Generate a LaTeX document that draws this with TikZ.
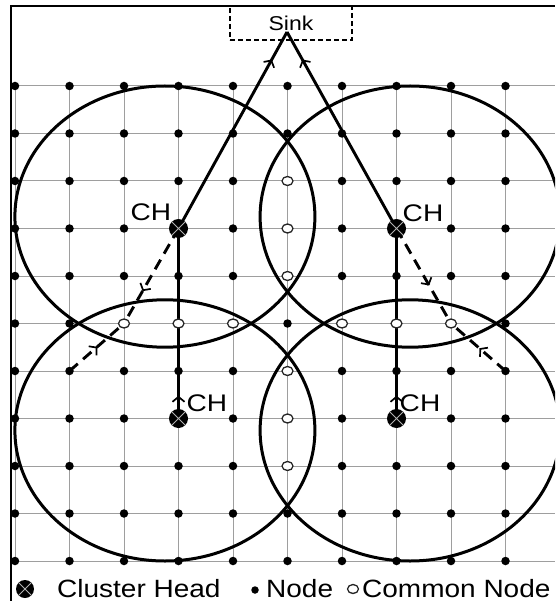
\documentclass[tikz,border=0pt]{standalone}
\usepackage{fontspec}
\usepackage{graphicx}
\setmainfont{Liberation Sans}
\usetikzlibrary{arrows.meta,decorations.markings,shapes.geometric}
\pgfdeclarelayer{background}
\pgfsetlayers{background,main}
\begin{document}
\begin{tikzpicture}[x=1pt,y=-1pt,
  gridline/.style={draw=black!38, line width=1pt},
  rangecircle/.style={draw=black, line width=3pt},
  dot/.style={circle, fill=black, inner sep=0pt, minimum size=8.5pt},
  common/.style={ellipse, draw=black!85, line width=1.3pt, fill=white, inner sep=0pt, minimum width=11pt, minimum height=9pt},
  head/.style={circle, fill=black, inner sep=0pt, minimum size=19pt,
    path picture={\draw[black!30, line width=0.9pt]
      (path picture bounding box.north west) -- (path picture bounding box.south east)
      (path picture bounding box.north east) -- (path picture bounding box.south west);}},
  link/.style={draw=black, line width=2.9pt},
  dlink/.style={draw=black, line width=2.9pt, dash pattern=on 11pt off 7pt},
  midarrow/.style={postaction={decorate, decoration={markings,
    mark=at position #1 with {\arrow[black, line width=1.7pt]{Straight Barb[length=5pt,width=12pt]}}}}},
  chlbl/.style={inner sep=0pt, font=\fontsize{24}{24}\selectfont},
  leglbl/.style={inner sep=0pt, anchor=base west, font=\fontsize{25}{25}\selectfont},
]
\useasboundingbox (0,0) rectangle (555,601);

% special grid positions (no plain node there)
\foreach \k in {5-2,5-3,5-4,2-5,3-5,4-5,6-5,7-5,8-5,5-6,5-7,5-8,3-3,7-3,3-7,7-7}{
  \expandafter\gdef\csname skip-\k\endcsname{}}

% plain nodes
\foreach \c in {0,...,9}{
  \foreach \r in {0,...,10}{
    \ifcsname skip-\c-\r\endcsname\else
      \node[dot] (g-\c-\r) at ({15+54.5*\c},{86+47.5*\r}) {};
    \fi
  }
}
% common nodes
\foreach \c/\r in {5/2,5/3,5/4,2/5,3/5,4/5,6/5,7/5,8/5,5/6,5/7,5/8}{
  \node[common] (cm-\c-\r) at ({15+54.5*\c},{86+47.5*\r}) {};
}
% cluster heads
\node[head] (ch1) at ({15+54.5*3},{86+47.5*3}) {};
\node[head] (ch2) at ({15+54.5*7},{86+47.5*3}) {};
\node[head] (ch3) at ({15+54.5*3},{86+47.5*7}) {};
\node[head] (ch4) at ({15+54.5*7},{86+47.5*7}) {};

% labels
\node[chlbl] (l1) at (151,212) {\scalebox{1.17}[1]{CH}};
\node[chlbl] (l2) at (423,213) {\scalebox{1.17}[1]{CH}};
\node[chlbl] (l3) at (207,403) {\scalebox{1.17}[1]{CH}};
\node[chlbl] (l4) at (420,403) {\scalebox{1.17}[1]{CH}};

% frame
\draw[line width=1.8pt] (11,601) -- (11,6) -- (555,6);

% sink
\node[draw=black, line width=2.8pt, dash pattern=on 5pt off 3pt, minimum width=122pt, minimum height=34pt,
  inner sep=0pt, font=\fontsize{20}{20}\selectfont] (sink) at (291,23) {\scalebox{1.15}[1]{Sink}};
\coordinate (apex) at (287,32);

% legend
\node[head, minimum size=18pt] (lg-head) at (25,589) {};
\node[leglbl] (lg-t1) at (57,597) {\scalebox{1.12}[1]{Cluster Head}};
\node[dot, minimum size=7.5pt] (lg-dot) at (255,590) {};
\node[leglbl] (lg-t2) at (266,597) {\scalebox{1.12}[1]{Node}};
\node[common] (lg-cm) at (353,589) {};
\node[leglbl] (lg-t3) at (362,597) {\scalebox{1.12}[1]{Common Node}};

\begin{pgfonlayer}{background}
\begin{scope}
\clip (0,0) rectangle (555,601);
% grid
\foreach \r in {0,...,10}{
  \draw[gridline] (15,{86+47.5*\r}) -- (555,{86+47.5*\r});
}
\foreach \c in {0,...,10}{
  \draw[gridline] ({15+54.5*\c},86) -- ({15+54.5*\c},561);
}
% cluster ranges
\draw[rangecircle] (164.9,216.6) ellipse [x radius=150pt, y radius=130.6pt];
\draw[rangecircle] (410.1,216.6) ellipse [x radius=150pt, y radius=130.6pt];
\draw[rangecircle] (164.9,430.4) ellipse [x radius=150pt, y radius=130.6pt];
\draw[rangecircle] (410.1,430.4) ellipse [x radius=150pt, y radius=130.6pt];
% connectors
\draw[link, midarrow=0.86] (ch1.center) -- (apex);
\draw[link, midarrow=0.86] (ch2.center) -- (apex);
\draw[link, midarrow=0.12] (ch3.center) -- (ch1.center);
\draw[link, midarrow=0.12] (ch4.center) -- (ch2.center);
\draw[dlink, midarrow=0.51] (g-1-6.center) -- (cm-2-5.center);
\draw[dlink, midarrow=0.66] (ch1.center) -- (cm-2-5.center);
\draw[dlink, midarrow=0.48] (g-9-6.center) -- (cm-8-5.center);
\draw[dlink, midarrow=0.6] (ch2.center) -- (cm-8-5.center);
\end{scope}
\end{pgfonlayer}
\end{tikzpicture}
\end{document}
